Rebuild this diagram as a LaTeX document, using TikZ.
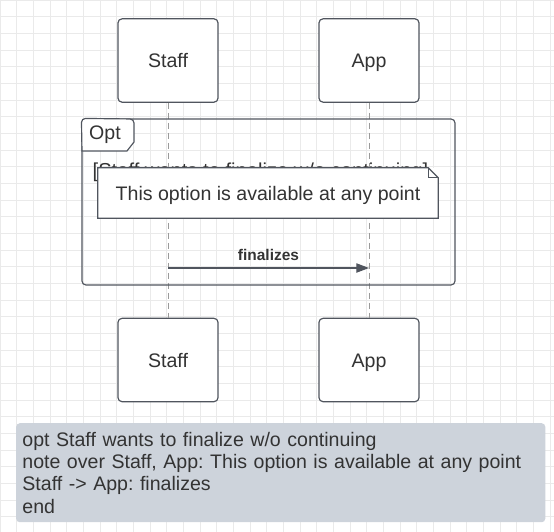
\documentclass[tikz,border=0pt]{standalone}
\usepackage{fontspec}
\setmainfont{Liberation Sans}
\usetikzlibrary{positioning, arrows.meta}
\frenchspacing

\definecolor{edge}{HTML}{50555E}
\definecolor{ink}{HTML}{333333}
\definecolor{lifeclr}{HTML}{9A9A9A}
\definecolor{gridclr}{HTML}{EAEAEA}
\definecolor{codebg}{HTML}{CDD3DB}

\begin{document}
\begin{tikzpicture}[
    x=0.03cm, y=-0.03cm,
    txt/.style={text=ink, font=\fontsize{16.7}{19}\selectfont},
    actor/.style={rectangle, draw=edge, fill=white, line width=1pt,
                  rounded corners=3.4pt, minimum width=3cm,
                  minimum height=2.5cm, text height=12pt, text depth=0pt, txt},
    lifeline/.style={draw=lifeclr, line width=0.8pt,
                     dash pattern=on 1.8mm off 1.2mm},
    frame/.style={rectangle, draw=edge, line width=1pt,
                  rounded corners=3.4pt, minimum width=11.19cm,
                  minimum height=4.98cm},
    outline/.style={draw=edge, line width=1pt},
    notebox/.style={rectangle, fill=white, minimum width=10.2cm,
                    minimum height=1.5cm, text height=13pt, text depth=-1pt, txt},
    msg/.style={draw=edge, line width=0.9pt,
                -{Triangle[length=3.8mm, width=2.8mm]}},
    msglabel/.style={text=ink, inner sep=0pt,
                     font=\fontsize{13.2}{15}\selectfont\bfseries},
    code/.style={rectangle, fill=codebg, rounded corners=3pt,
                 minimum width=15.87cm, minimum height=2.97cm,
                 inner xsep=0.15cm, text width=15.5cm, align=left, txt}
]

\useasboundingbox (0,0) rectangle (554,532);

%% --- Grila de fundal ---
\draw[gridclr, line width=0.6pt, step=0.5cm] (0,0) grid (554,532);

%% --- Actori ---
\node[actor] (staff_top) at (168,60.5) {Staff};
\node[actor] (app_top)   at (369,60.5) {App};
\node[actor] (staff_bot) at (168,360)  {Staff};
\node[actor] (app_bot)   at (369,360)  {App};

%% --- Linii de viata ---
\draw[lifeline] (staff_top) -- (staff_bot);
\draw[lifeline] (app_top)   -- (app_bot);

%% --- Bloc opt ---
\node[frame] (opt_box) at (268.5,202) {};
\filldraw[outline, fill=white]
    (82,151) [rounded corners=3.4pt] -- (opt_box.north west) -- (134,119)
    [sharp corners] -- (134,142) -- (127,151) -- cycle;
\node[txt] (opt_lbl) at (105,135) {Opt};
\node[txt, font=\fontsize{17.2}{20}\selectfont] (opt_cond) at (260.5,172)
    {[Staff wants to finalize w/o continuing]};

%% --- Nota ---
\node[notebox] (note) at (268,193) {This option is available at any point};
\draw[outline] (note.north west) -- ([xshift=-0.3cm]note.north east)
    -- ([yshift=-0.3cm]note.north east) -- (note.south east)
    -- (note.south west) -- cycle;
\draw[outline] ([xshift=-0.3cm]note.north east)
    -- ([xshift=-0.3cm, yshift=-0.3cm]note.north east)
    -- ([yshift=-0.3cm]note.north east);

%% --- Mesaj ---
\coordinate (fin_from) at (168,268);
\coordinate (fin_to)   at (369,268);
\draw[msg] (fin_from) -- node[above=0.19cm, msglabel] {finalizes} (fin_to);

%% --- Codul sursa ---
\node[code, anchor=north west] (src) at (16,423)
    {opt Staff wants to finalize w/o continuing\\
     note over Staff, App: This option is available at any point\\
     Staff -> App: finalizes\\
     end};

\end{tikzpicture}
\end{document}
